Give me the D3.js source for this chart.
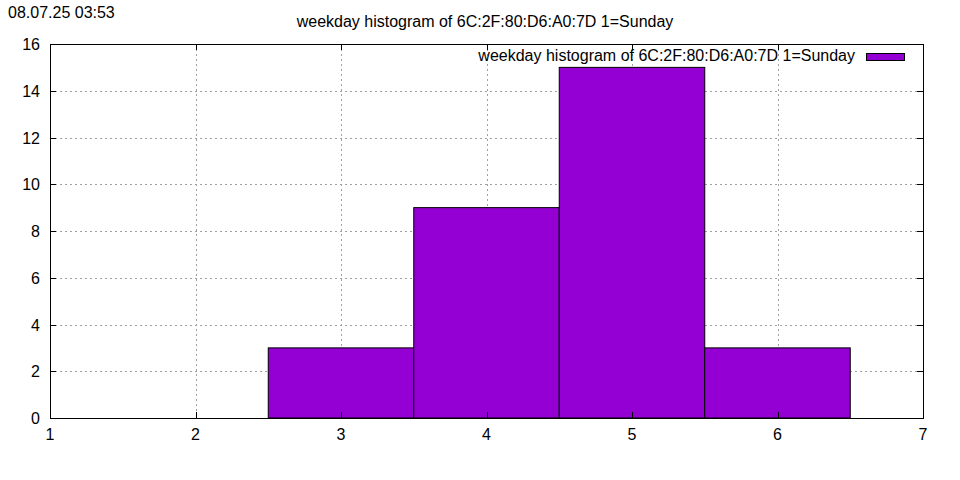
<!DOCTYPE html>
<html><head><meta charset="utf-8">
<script src="https://cdn.jsdelivr.net/npm/d3@7"></script>
<style>body{margin:0;background:#fff}svg{display:block}text{font-family:"Liberation Sans",Arial,sans-serif;font-size:16px;fill:#000}</style>
</head><body>
<script>
const weekdays = [3, 4, 5, 6];
const counts = [3, 9, 15, 3];
const xTicks = [1, 2, 3, 4, 5, 6, 7];
const yTicks = [0, 2, 4, 6, 8, 10, 12, 14, 16];
const title = "weekday histogram of 6C:2F:80:D6:A0:7D 1=Sunday";
const stamp = "08.07.25 03:53";

const W = 960, H = 480, L = 50, R = 923, T = 44, B = 418;
const svg = d3.select("body").append("svg").attr("width", W).attr("height", H);
const x = d3.scaleLinear().domain([1, 7]).range([L, R]);
const y = d3.scaleLinear().domain([0, 16]).range([B, T]);

// grid
const g = svg.append("g").attr("stroke", "#a0a0a0").attr("stroke-width", 1).attr("stroke-dasharray", "2,3");
xTicks.slice(1, -1).forEach(t => g.append("line").attr("x1", Math.round(x(t)) + .5).attr("x2", Math.round(x(t)) + .5).attr("y1", T).attr("y2", B));
yTicks.slice(1, -1).forEach(t => g.append("line").attr("y1", Math.round(y(t)) + .5).attr("y2", Math.round(y(t)) + .5).attr("x1", L).attr("x2", R));

// bars
svg.append("g").selectAll("rect").data(weekdays).join("rect")
  .attr("x", d => x(d - 0.5)).attr("width", d => x(d + 0.5) - x(d - 0.5))
  .attr("y", (d, i) => y(counts[i])).attr("height", (d, i) => y(0) - y(counts[i]))
  .attr("fill", "#9400d3").attr("stroke", "#000").attr("stroke-width", 1);

// border
svg.append("rect").attr("x", L + .5).attr("y", T + .5).attr("width", R - L).attr("height", B - T)
  .attr("fill", "none").attr("stroke", "#000").attr("stroke-width", 1);

// axes ticks (inward, mirrored)
const ax = svg.append("g").attr("stroke", "#000");
xTicks.forEach(t => {
  const px = Math.round(x(t)) + .5;
  ax.append("line").attr("x1", px).attr("x2", px).attr("y1", B).attr("y2", B - 6);
  ax.append("line").attr("x1", px).attr("x2", px).attr("y1", T).attr("y2", T + 6);
});
yTicks.forEach(t => {
  const py = Math.round(y(t)) + .5;
  ax.append("line").attr("y1", py).attr("y2", py).attr("x1", L).attr("x2", L + 6);
  ax.append("line").attr("y1", py).attr("y2", py).attr("x1", R).attr("x2", R - 6);
});
svg.append("g").selectAll("text").data(xTicks).join("text")
  .attr("x", d => x(d)).attr("y", B + 22).attr("text-anchor", "middle").text(d => d);
svg.append("g").selectAll("text").data(yTicks).join("text")
  .attr("x", L - 10).attr("y", d => y(d) + 6).attr("text-anchor", "end").text(d => d);

svg.append("text").attr("x", 485).attr("y", 27).attr("text-anchor", "middle").attr("font-size", 15).text(title);
svg.append("text").attr("x", 8).attr("y", 18).text(stamp);

// legend
svg.append("text").attr("x", 855).attr("y", 61).attr("text-anchor", "end").text(title);
svg.append("rect").attr("x", 866.5).attr("y", 53.5).attr("width", 38).attr("height", 7)
  .attr("fill", "#9400d3").attr("stroke", "#000");
</script>
</body></html>
